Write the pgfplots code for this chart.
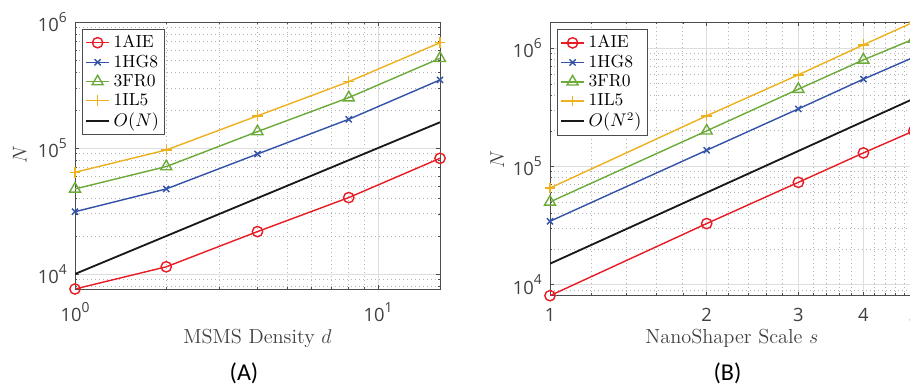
\documentclass[border=0pt]{standalone}
\usepackage{fontspec}
\usepackage{pgfplots}
\pgfplotsset{compat=1.18}
\newfontfamily\tickfont{Open Sans}
\newfontfamily\capfont{Carlito}
\definecolor{cred}{RGB}{232,28,36}
\definecolor{cblue}{RGB}{52,82,168}
\definecolor{cgreen}{RGB}{108,170,58}
\definecolor{cyel}{RGB}{237,177,32}
\newcommand\tl[1]{{\tickfont 10\raisebox{5.6pt}{\fontsize{8.3}{9}\selectfont #1}}}
\newcommand\td[1]{{\tickfont #1}}
\pgfplotsset{
  common/.style={
    scale only axis,
    grid=both,
    major grid style={solid, color=black!13, line width=0.45pt},
    minor grid style={dotted, color=black!30, line width=0.45pt},
    axis line style={black!70, line width=0.5pt},
    major tick style={black!70, line width=0.5pt},
    minor tick style={black!70, line width=0.4pt},
    major tick length=2.4pt, minor tick length=1.4pt,
    tick align=inside,
    clip mode=individual,
    every tick label/.style={font=\fontsize{11}{13}\selectfont, text=black!75},
    yticklabel style={anchor=east, xshift=-1.4pt},
    label style={font=\fontsize{12.2}{14}\selectfont, text=black!75},
    legend style={anchor=north west, draw=black!70, line width=0.5pt,
      font=\fontsize{10.5}{12}\selectfont, fill=white,
      inner sep=1.5pt, row sep=-1.2pt, cells={anchor=west}},
    legend image code/.code={\draw[mark repeat=2,mark phase=2] plot coordinates {(0cm,0cm)(0.25cm,0cm)(0.5cm,0cm)};},
  },
  sA/.style={cred, line width=0.85pt, mark=o, mark size=3.1pt, mark options={solid, line width=0.85pt}},
  sB/.style={cblue, line width=0.85pt, mark=x, mark size=2.6pt, mark options={solid, line width=0.85pt}},
  sC/.style={cgreen, line width=0.85pt, mark=triangle, mark size=3.8pt, mark options={solid, line width=0.85pt}},
  sD/.style={cyel, line width=0.85pt, mark=+, mark size=3.2pt, mark options={solid, line width=0.85pt}},
  sO/.style={black!90, line width=1.1pt, no marks},
}
\begin{document}
\begin{tikzpicture}[x=1pt,y=1pt]
\useasboundingbox (0,0) rectangle (546,231);
\begin{loglogaxis}[common,
  at={(45pt,57.6pt)}, anchor=south west,
  width=219pt, height=160.2pt,
  xmin=1, xmax=16, ymin=7600, ymax=1e6,
  xtick={1,10}, xticklabels={\tl{0},\tl{1}},
  minor xtick={2,3,4,5,6,7,8,9},
  ytick={1e4,1e5,1e6}, yticklabels={\tl{4},\tl{5},\tl{6}},
  minor ytick={8000,9000,20000,30000,40000,50000,60000,70000,80000,90000,200000,300000,400000,500000,600000,700000,800000,900000},
  xticklabel style={anchor=base, yshift=-19.8pt},
  xlabel={MSMS Density $d$},
  xlabel style={at={(axis description cs:0.5,-0.1835)}, anchor=center},
  ylabel={$N$},
  ylabel style={at={(axis description cs:-0.151,0.502)}, anchor=center},
  legend style={at={(0.019,0.974)}},
]
\addplot[sA] coordinates {(1,7600)(2,11400)(4,21700)(8,40400)(16,82800)};
\addlegendentry{1AIE}
\addplot[sB] coordinates {(1,31200)(2,47300)(4,89600)(8,169000)(16,347000)};
\addlegendentry{1HG8}
\addplot[sC] coordinates {(1,47300)(2,71200)(4,135000)(8,251000)(16,515000)};
\addlegendentry{3FR0}
\addplot[sD] coordinates {(1,64100)(2,96400)(4,180000)(8,336000)(16,685000)};
\addlegendentry{1IL5}
\addplot[sO] coordinates {(1,10000)(2,20000)(4,40000)(8,80000)(16,160000)};
\addlegendentry{$O(N)$}
\end{loglogaxis}
\begin{loglogaxis}[common,
  at={(330pt,53.6pt)}, anchor=south west,
  width=218.3pt, height=164.2pt,
  xmin=1, xmax=5, ymin=8040, ymax=1.67e6,
  xtick={1,2,3,4,5}, xticklabels={\td{1},\td{2},\td{3},\td{4},\td{5}},
  minor xtick={1.2,1.4,1.6,1.8,2.2,2.4,2.6,2.8,3.2,3.4,3.6,3.8,4.2,4.4,4.6,4.8},
  ytick={1e4,1e5,1e6}, yticklabels={\tl{4},\tl{5},\tl{6}},
  minor ytick={9000,20000,30000,40000,50000,60000,70000,80000,90000,200000,300000,400000,500000,600000,700000,800000,900000},
  xticklabel style={anchor=base, yshift=-15.8pt},
  xlabel={NanoShaper Scale $s$},
  xlabel style={at={(axis description cs:0.5,-0.1545)}, anchor=center},
  ylabel={$N$},
  ylabel style={at={(axis description cs:-0.145,0.496)}, anchor=center},
  legend style={at={(0.019,0.974)}},
]
\addplot[sA] coordinates {(1,8040)(2,32800)(3,73300)(4,130000)(5,200000)};
\addlegendentry{1AIE}
\addplot[sB] coordinates {(1,34300)(2,137000)(3,307000)(4,548000)(5,840000)};
\addlegendentry{1HG8}
\addplot[sC] coordinates {(1,50000)(2,200000)(3,451000)(4,798000)(5,1200000)};
\addlegendentry{3FR0}
\addplot[sD] coordinates {(1,65600)(2,268000)(3,596000)(4,1070000)(5,1670000)};
\addlegendentry{1IL5}
\addplot[sO] coordinates {(1,15000)(2,60000)(3,135000)(4,240000)(5,375000)};
\addlegendentry{$O(N^2)$}
\end{loglogaxis}
\node[font=\capfont\fontsize{14.5}{16}\selectfont] at (146.4,7.2) {(A)};
\node[font=\capfont\fontsize{14.5}{16}\selectfont] at (436.5,7.2) {(B)};
\end{tikzpicture}
\end{document}
